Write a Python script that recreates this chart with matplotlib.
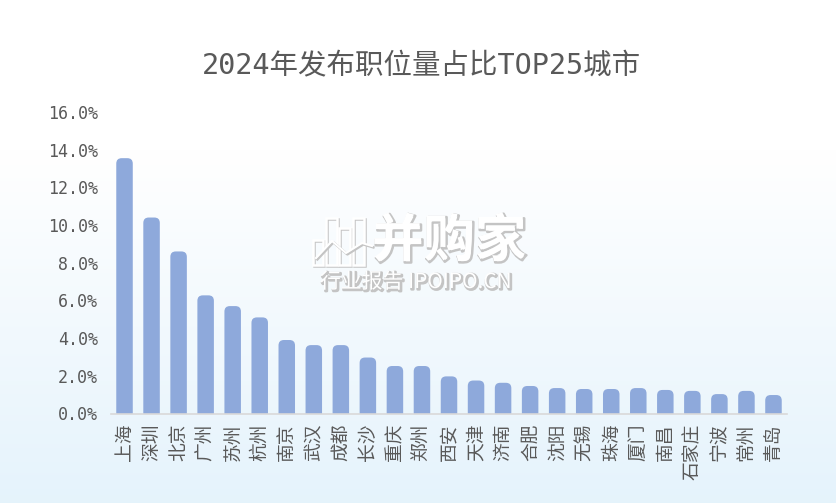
import numpy as np
import matplotlib
matplotlib.use('Agg')
import matplotlib.pyplot as plt
import matplotlib.patheffects as pe
from matplotlib.patches import FancyBboxPatch, Rectangle

cities = ['上海', '深圳', '北京', '广州', '苏州', '杭州', '南京', '武汉', '成都', '长沙',
          '重庆', '郑州', '西安', '天津', '济南', '合肥', '沈阳', '无锡', '珠海', '厦门',
          '南昌', '石家庄', '宁波', '常州', '青岛']
share = [13.55, 10.4, 8.6, 6.27, 5.7, 5.1, 3.9, 3.63, 3.63, 2.97,
         2.52, 2.52, 1.97, 1.75, 1.63, 1.46, 1.35, 1.3, 1.3, 1.35,
         1.25, 1.2, 1.03, 1.2, 0.98]
yticks = [0, 2, 4, 6, 8, 10, 12, 14, 16]
title = '2024年发布职位量占比TOP25城市'

W, H = 836, 503
TEXT = '#595959'
BAR = '#8EA9DB'
FONTS = ['DejaVu Sans Mono', 'Noto Sans CJK SC']
CJK = ['Noto Sans CJK SC', 'DejaVu Sans']

fig = plt.figure(figsize=(W / 100, H / 100), dpi=100)

# background gradient, white at top to pale blue at the bottom
bg = fig.add_axes([0, 0, 1, 1], zorder=0)
top = np.array([1.0, 1.0, 1.0])
bottom = np.array([0.898, 0.953, 0.988])
t = np.clip((np.linspace(0, 1, 256) - 0.3) / 0.7, 0, 1)[:, None, None]
bg.imshow(top + (bottom - top) * t, aspect='auto', extent=[0, 1, 0, 1])
bg.axis('off')

ax = fig.add_axes([111 / W, 1 - 413.5 / H, 676 / W, 301.5 / H], zorder=1)
ax.patch.set_alpha(0)
ax.set_xlim(-0.5, 24.5)
ax.set_ylim(0, 16)

# rounded bars, the bottom corners go under the axis and get clipped
px_x = 676 / 25
px_y = 301.5 / 16
bar_w = 16.5 / px_x
for i, v in enumerate(share):
    ax.add_patch(FancyBboxPatch((i - bar_w / 2, -1), bar_w, v + 1,
                                boxstyle='round,pad=0,rounding_size=0.2',
                                mutation_aspect=px_x / px_y,
                                fc=BAR, ec='none'))

for s in ['top', 'right', 'left']:
    ax.spines[s].set_visible(False)
ax.spines['bottom'].set_color('#D9D9D9')
ax.spines['bottom'].set_linewidth(1.2)

ax.set_yticks(yticks)
ax.set_yticklabels(['%.1f%%' % y for y in yticks], family=FONTS, fontsize=12, color=TEXT)
ax.set_xticks(range(len(cities)))
ax.set_xticklabels(cities, rotation=90, family=CJK, fontsize=13.5, color=TEXT)
ax.tick_params(axis='both', length=0)
ax.tick_params(axis='y', pad=9.5)
ax.tick_params(axis='x', pad=7.5)

fig.text(421 / W, 1 - 66 / H, title, ha='center', va='center', family=FONTS,
         fontsize=20.5, color=TEXT)

# watermark, drawn in pixel coordinates of the image
wm = fig.add_axes([0, 0, 1, 1], zorder=2)
wm.set_xlim(0, W)
wm.set_ylim(H, 0)
wm.axis('off')
shadow = [pe.Stroke(offset=(1, -1), linewidth=1.8, foreground='#C4C4C4'), pe.Normal()]
for x, y0, w in [(313, 240, 10), (326, 218, 11), (339, 228, 11), (353, 218, 11)]:
    wm.add_patch(Rectangle((x, y0), w, 265 - y0, fc='none', ec='white', lw=1.8, path_effects=shadow))
wm.plot([316, 332, 346, 362, 372], [258, 241, 253, 243, 246], color='white', lw=1.5,
        path_effects=shadow)
wm.text(449, 241, '并购家', ha='center', va='center', family=CJK, fontsize=37,
        fontweight='bold', color='white', path_effects=shadow)
wm.text(416, 282, '行业报告 IPOIPO.CN', ha='center', va='center', family=CJK, fontsize=15,
        color='white', path_effects=shadow)

fig.savefig('out.png', dpi=100)
